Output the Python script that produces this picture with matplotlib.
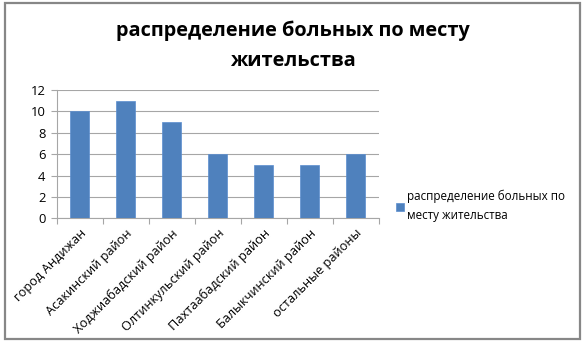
import matplotlib.pyplot as plt
from matplotlib.patches import Rectangle

# data
categories = ["город Андижан", "Асакинский район", "Ходжиабадский район",
              "Олтинкульский район", "Пахтаабадский район",
              "Балыкчинский район", "остальные районы"]
values = [10, 11, 9, 6, 5, 5, 6]
series_name = "распределение больных по\nместу жительства"
title = "распределение больных по месту\nжительства"

plt.rcParams['font.family'] = ['Open Sans', 'DejaVu Sans']

W, H = 586, 344
fig = plt.figure(figsize=(W / 100, H / 100), dpi=100)

# outer chart border
fig.patches.append(Rectangle((5 / W, 1 - 339 / H), 575 / W, 336 / H,
                             transform=fig.transFigure, fill=False,
                             edgecolor='#878787', linewidth=1.6))

ax = fig.add_axes([56.5 / W, 1 - 218.3 / H, 322 / W, 128.3 / H])
bars = ax.bar(range(len(values)), values, width=0.4, color='#4F81BD',
              edgecolor='#5B8ED0', linewidth=0.5, label=series_name, zorder=3)

ax.set_xlim(-0.5, len(values) - 0.5)
ax.set_ylim(0, 12)
ax.set_yticks(range(0, 13, 2))
ax.yaxis.grid(True, color='#A6A6A6', linewidth=0.8, zorder=0)
ax.set_xticks([i - 0.5 for i in range(len(values) + 1)], minor=False)
ax.set_xticklabels([])
ax.set_xticks(range(len(values)), minor=True)
ax.set_xticklabels(categories, minor=True, rotation=45, ha='right',
                   rotation_mode='anchor', fontsize=9.2)
ax.tick_params(axis='x', which='minor', length=0, pad=6)
ax.tick_params(axis='x', which='major', length=4, color='#A6A6A6', direction='out')
ax.tick_params(axis='y', length=4, color='#A6A6A6', labelsize=9.4, pad=4)
for s in ['top', 'right']:
    ax.spines[s].set_visible(False)
ax.spines['left'].set_color('#A6A6A6')
ax.spines['bottom'].set_color('#A6A6A6')

fig.text(293 / W, 1 - 46 / H, title, ha='center', va='center',
         fontsize=14.3, fontweight='bold', linespacing=1.65)

fig.legend(loc='center left', bbox_to_anchor=(391 / W, 1 - 206 / H),
           frameon=False, fontsize=8.4, handlelength=0.7, handleheight=0.7,
           handletextpad=0.3, borderaxespad=0, labelspacing=0)
fig.legends[0].get_texts()[0].set_linespacing(1.55)

fig.savefig("out.png", dpi=100, facecolor='white')
